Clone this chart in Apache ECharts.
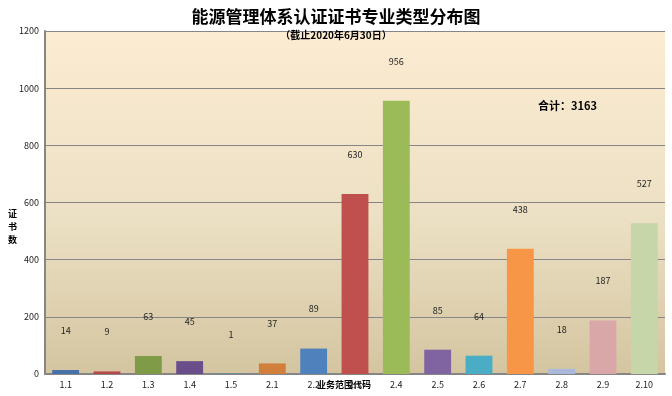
<!DOCTYPE html>
<html><head><meta charset="utf-8">
<script src="https://cdn.jsdelivr.net/npm/echarts@6/dist/echarts.min.js"></script>
<style>html,body{margin:0;padding:0;background:#fff}#c{width:672px;height:396px}</style>
</head><body><div id="c"></div>
<script>
var categories = ['1.1','1.2','1.3','1.4','1.5','2.1','2.2','2.3','2.4','2.5','2.6','2.7','2.8','2.9','2.10'];
var values = [14, 9, 63, 45, 1, 37, 89, 630, 956, 85, 64, 438, 18, 187, 527];
var barColors = ['#4672a9','#b5494a','#7f9b47','#6a4d8b','#3fa0b8','#d17f3a','#4f81bd','#c0504d','#9bbb59','#8064a2','#4bacc6','#f79646','#aab9d9','#d9a7a8','#c6d6a9'];
var yTicks = {min: 0, max: 1200, interval: 200};
var totalText = '合计：3163';

var chart = echarts.init(document.getElementById('c'), null, {renderer: 'canvas'});
var font = '"Noto Sans CJK SC", "DejaVu Sans", sans-serif';
chart.setOption({
  animation: false,
  backgroundColor: '#ffffff',
  title: [{
    text: '能源管理体系认证证书专业类型分布图',
    left: 'center', top: 3,
    textStyle: {fontFamily: font, fontSize: 17, fontWeight: 'bold', color: '#000'}
  }, {
    text: '（截止2020年6月30日）',
    left: 'center', top: 25,
    textStyle: {fontFamily: font, fontSize: 10, fontWeight: 'bold', color: '#000'}
  }],
  graphic: [{
    type: 'rect', z: -1,
    shape: {x: 45, y: 31, width: 620, height: 343},
    style: {fill: new echarts.graphic.LinearGradient(0,0,0,1,[{offset:0,color:'#fcecd1'},{offset:0.55,color:'#ece0c4'},{offset:1,color:'#d4c5a0'}])}
  }, {
    type: 'text', left: 538, top: 100, z: 10,
    style: {text: totalText, font: 'bold 11px ' + font, fill: '#000'}
  }, {
    type: 'text', left: 8, top: 207, z: 10,
    style: {text: '证\n书\n数', font: 'bold 9px ' + font, fill: '#000', lineHeight: 13}
  }],
  grid: {left: 45, right: 7, top: 31, bottom: 22, containLabel: false, outerBoundsMode: 'none'},
  xAxis: {
    type: 'category', data: categories,
    name: '业务范围代码', nameLocation: 'middle', nameGap: 6, nameMoveOverlap: false,
    nameTextStyle: {fontFamily: font, fontSize: 9, fontWeight: 'bold', color: '#000', padding: [0, 22, 0, 0]},
    axisLine: {lineStyle: {color: '#868686', width: 2}},
    axisTick: {show: false},
    axisLabel: {fontFamily: font, fontSize: 9, color: '#222', margin: 6, interval: 0}
  },
  yAxis: {
    type: 'value', min: yTicks.min, max: yTicks.max, interval: yTicks.interval,
    axisLine: {show: true, lineStyle: {color: '#868686', width: 2}},
    axisTick: {show: false},
    splitLine: {lineStyle: {color: '#868686', width: 1}},
    axisLabel: {fontFamily: font, fontSize: 9, color: '#222', margin: 6, formatter: function(v){ return String(v); }}
  },
  series: [{
    type: 'bar', barWidth: '65%',
    data: values.map(function(v, i){ return {value: v, itemStyle: {color: barColors[i]}}; }),
    label: {show: true, position: 'top', distance: 35, fontFamily: font, fontSize: 9, color: '#222'}
  }]
});
</script></body></html>
